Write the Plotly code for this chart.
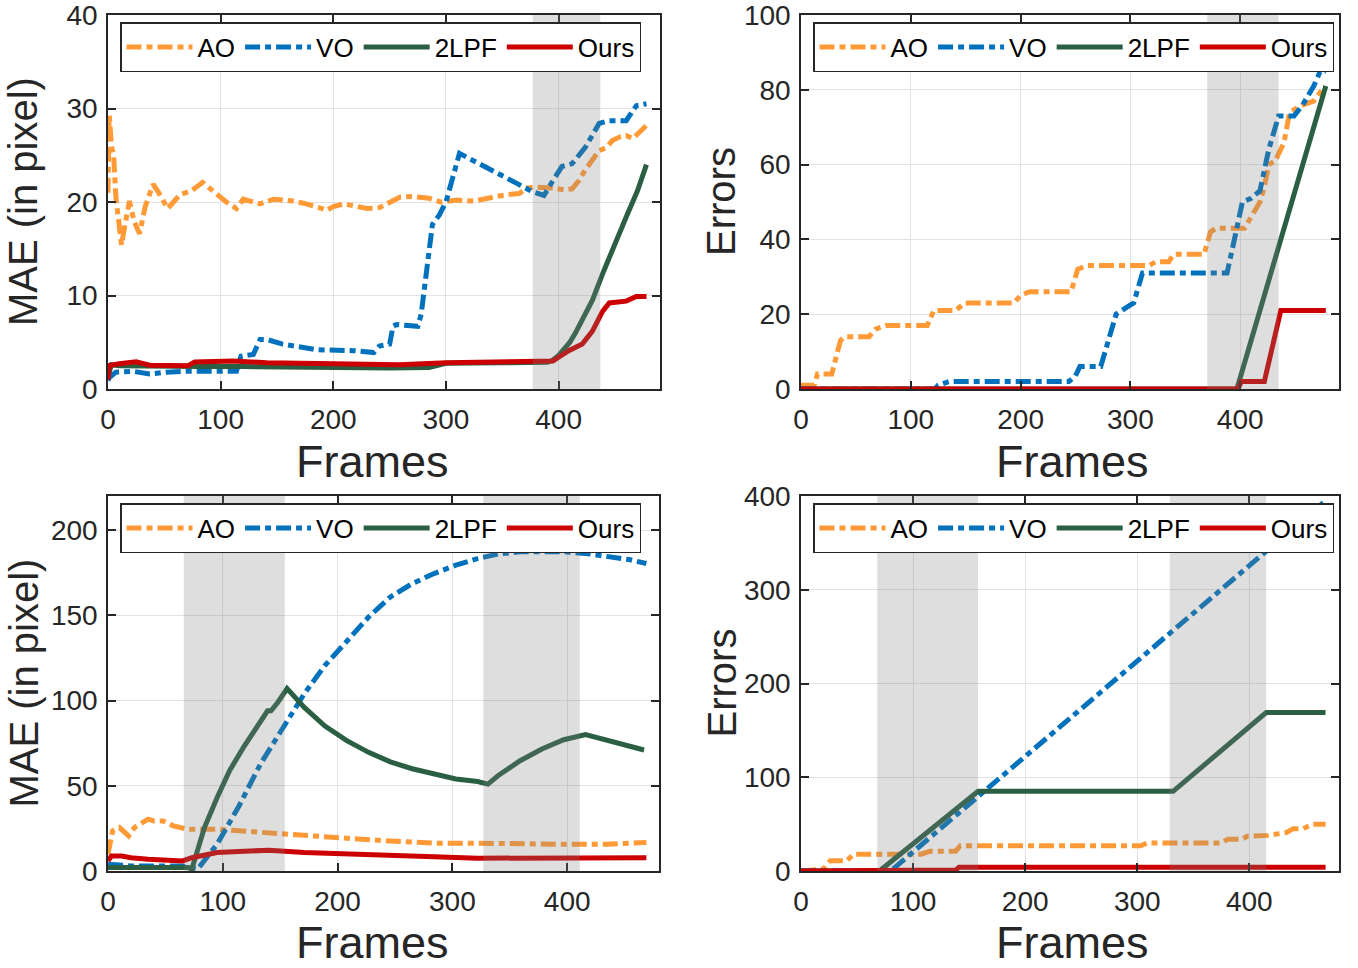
import plotly.graph_objects as go

W, H = 1358, 968

# ---- panel A: MAE, sequence 1 ----
a_ao_x = [0, 1, 3, 5, 7, 12, 15, 19, 23, 28, 33, 40, 44, 53, 64, 74, 84, 96, 105, 114, 120,
          135, 147, 164, 176, 190, 194, 200, 209, 218, 230, 241, 253, 259, 270, 285, 295, 300, 310, 325, 335,
          345, 355, 365, 372, 380, 395, 405, 412, 418, 424, 430, 436, 442, 448, 455, 460, 466, 472, 478]
a_ao_y = [21.0, 29.5, 26.0, 25.0, 20.5, 15.4, 17.5, 20.1, 18.0, 16.6, 19.5, 21.9, 21.2, 19.3, 20.8, 21.2, 22.1, 20.8, 20.0, 19.3, 20.3,
          19.8, 20.3, 20.1, 19.8, 19.3, 19.1, 19.5, 19.8, 19.6, 19.3, 19.4, 20.1, 20.5, 20.6, 20.4, 20.0, 20.1, 20.2, 20.1, 20.4,
          20.6, 20.8, 20.9, 21.5, 21.6, 21.5, 21.3, 21.4, 22.3, 23.5, 24.6, 25.5, 25.8, 26.6, 27.0, 27.1, 26.8, 27.5, 28.2]
a_vo_x = [0, 1, 7, 22, 37, 52, 70, 81, 114, 118, 123, 129, 135, 141, 155, 185, 218, 236, 241, 250,
          253, 256, 275, 278, 288, 294, 300, 312, 377, 387, 395, 403, 412, 424, 436, 445, 460, 469, 478]
a_vo_y = [0.9, 1.2, 1.8, 1.9, 1.6, 1.8, 1.9, 1.9, 1.9, 3.5, 3.6, 3.7, 5.3, 5.3, 4.8, 4.2, 4.1, 3.9, 4.6, 4.8,
          6.7, 6.9, 6.7, 8.0, 17.6, 18.6, 20.0, 25.2, 21.1, 20.7, 22.3, 23.8, 24.1, 25.9, 28.4, 28.7, 28.7, 30.3, 30.5]
a_lpf_x = [0, 3, 10, 40, 80, 120, 160, 200, 250, 285, 300, 350, 390, 395, 400, 405, 410, 415, 420, 425,
           430, 440, 450, 460, 470, 478]
a_lpf_y = [1.3, 2.6, 2.5, 2.4, 2.4, 2.4, 2.35, 2.25, 2.25, 2.3, 2.75, 2.8, 2.85, 3.1, 3.6, 4.3, 5.0, 6.0, 7.1, 8.3,
           9.5, 12.6, 15.6, 18.4, 21.2, 24.0]
a_our_x = [0, 1, 10, 25, 37, 52, 71, 77, 111, 141, 200, 259, 300, 389, 395, 400, 409, 421, 430, 439,
           445, 460, 469, 478]
a_our_y = [1.0, 2.5, 2.7, 2.9, 2.55, 2.5, 2.5, 2.9, 3.0, 2.8, 2.65, 2.6, 2.8, 2.9, 3.0, 3.4, 4.1, 4.8, 6.2, 8.3,
           9.2, 9.4, 9.9, 9.9]
a_shade = [(377, 437)]

# ---- panel B: error count, sequence 1 ----
b_ao_x = [0, 12, 15, 28, 36, 40, 62, 68, 78, 115, 121, 141, 149, 194, 200, 208, 246, 252, 260, 317,
          323, 335, 339, 367, 373, 378, 404, 410, 418, 422, 426, 432, 440, 445, 457, 467, 477]
b_ao_y = [1, 1, 4, 4, 13, 14, 14, 16, 17, 17, 21, 21, 23, 23, 25, 26, 26, 32, 33, 33,
          34, 34, 36, 36, 42, 43, 43, 46, 50, 54, 60, 61, 66, 74, 76, 77, 81]
b_vo_x = [0, 122, 125, 135, 244, 250, 254, 273, 287, 293, 303, 311, 388, 394, 402, 410, 418, 426, 435, 449,
          457, 467, 473, 478]
b_vo_y = [0, 0, 1, 2, 2, 3.5, 6, 6, 20, 21, 23, 31, 31, 39, 50, 51, 53, 64, 73, 73,
          76, 81, 85, 85]
b_lpf_x = [0, 397, 478]
b_lpf_y = [0, 0, 81]
b_our_x = [0, 398, 401, 422, 437, 478]
b_our_y = [0, 0, 2, 2, 21, 21]
b_shade = [(370, 435)]

# ---- panel C: MAE, sequence 2 ----
c_ao_x = [0, 4, 10, 18, 23, 35, 40, 48, 57, 69, 95, 114, 133, 152, 171, 208, 246, 284, 322, 359,
          397, 435, 469]
c_ao_y = [9.8, 23.5, 25.5, 20.6, 25.5, 30.4, 29.4, 29.4, 26.5, 24.5, 24.5, 23.5, 22.5, 21.6, 20.6, 19.2, 17.6, 16.3, 16.3, 15.7,
          15.7, 15.7, 16.7]
c_vo_x = [0, 20, 65, 78, 95, 114, 133, 152, 171, 189, 208, 227, 246, 265, 284, 303, 322, 340, 359, 378,
          397, 416, 435, 454, 469]
c_vo_y = [3.9, 3.0, 2.9, 1.0, 15.7, 38, 63, 84, 104, 120.6, 135, 149, 160.8, 168.6, 174.5, 179.4, 183.3, 186, 187.3, 187.6,
          187.3, 186.3, 184.7, 182.7, 180.4]
c_lpf_x = [0, 70, 73, 84, 95, 106, 118, 129, 139, 142, 148, 156, 171, 189, 208, 227, 246, 265, 284, 303,
           322, 331, 340, 359, 378, 397, 416, 435, 454, 467]
c_lpf_y = [2, 2, 1, 25.5, 43, 59, 72.5, 84, 94, 94, 99, 107, 96, 85, 76.5, 69.6, 64, 60, 57, 54,
           52.5, 51, 56, 64.7, 71.6, 77, 80, 76.5, 73.5, 71]
c_our_x = [0, 3, 12, 20, 35, 50, 65, 73, 95, 114, 140, 171, 208, 284, 322, 397, 469]
c_our_y = [5.9, 8.8, 8.8, 7.8, 6.9, 6.3, 5.9, 7.8, 10.8, 11.4, 12.2, 10.8, 9.8, 8.4, 7.5, 7.8, 7.8]
c_shade = [(66, 154), (327, 411)]

# ---- panel D: error count, sequence 2 ----
d_ao_x = [0, 20, 26, 41, 47, 107, 115, 138, 142, 303, 309, 375, 381, 394, 398, 417, 433, 439, 448, 456, 468]
d_ao_y = [0, 2, 11, 11, 18, 18, 21, 21, 27, 27, 30, 30, 34, 34, 37, 38, 41, 45, 45, 50, 50]
d_vo_x = [0, 80, 466]
d_vo_y = [0, 0, 393]
d_lpf_x = [0, 70, 158, 332, 415, 468]
d_lpf_y = [0, 0, 85, 85, 169, 169]
d_our_x = [0, 90, 95, 138, 141, 468]
d_our_y = [0, 0, 1, 1, 4, 4]
d_shade = [(68, 158), (329, 415)]

names = ["AO", "VO", "2LPF", "Ours"]
colors = ["#FF9A36", "#0072BD", "#2B5F44", "#CC0000"]
dashes = ["15px,5px,6px,5px", "15px,5px,6px,5px", "solid", "solid"]

FONT = "Arial, Liberation Sans, sans-serif"
INK = "#262626"

# panel box in page pixels: (left, right, top, bottom); y-title centre x; x-title centre x / cap-centre y
panels = [
    dict(key="", box=(108, 660, 15, 389), xr=[0, 490], yr=[0, 40], dy=10, ytitle="MAE (in pixel)", ytx=23,
         xt=(372, 461),
         series=[(a_ao_x, a_ao_y), (a_vo_x, a_vo_y), (a_lpf_x, a_lpf_y), (a_our_x, a_our_y)], shade=a_shade),
    dict(key="2", box=(801, 1339, 15, 389), xr=[0, 490], yr=[0, 100], dy=20, ytitle="Errors", ytx=721,
         xt=(1072, 461),
         series=[(b_ao_x, b_ao_y), (b_vo_x, b_vo_y), (b_lpf_x, b_lpf_y), (b_our_x, b_our_y)], shade=b_shade),
    dict(key="3", box=(108, 659, 496, 871), xr=[0, 480], yr=[0, 220], dy=50, ytitle="MAE (in pixel)", ytx=23,
         xt=(372, 942),
         series=[(c_ao_x, c_ao_y), (c_vo_x, c_vo_y), (c_lpf_x, c_lpf_y), (c_our_x, c_our_y)], shade=c_shade),
    dict(key="4", box=(801, 1339, 496, 871), xr=[0, 480], yr=[0, 400], dy=100, ytitle="Errors", ytx=721,
         xt=(1072, 942),
         series=[(d_ao_x, d_ao_y), (d_vo_x, d_vo_y), (d_lpf_x, d_lpf_y), (d_our_x, d_our_y)], shade=d_shade),
]


def px_x(v):
    return v / W


def px_y(v):
    return 1 - v / H


fig = go.Figure()
layout = dict(width=W, height=H, margin=dict(l=0, r=0, t=0, b=0),
              paper_bgcolor="white", plot_bgcolor="white",
              font=dict(family=FONT, color=INK), shapes=[], annotations=[])

for p in panels:
    k = p["key"]
    left, right, top, bottom = p["box"]
    xa, ya = "xaxis" + k, "yaxis" + k
    xref, yref = "x" + k, "y" + k
    leg = "legend" + k
    axis_common = dict(showline=True, linecolor=INK, linewidth=1.5, mirror="ticks",
                       ticks="inside", ticklen=8, tickwidth=1.5, tickcolor=INK,
                       showgrid=True, gridcolor="#e2e2e2", gridwidth=1, zeroline=False,
                       ticklabeloverflow="allow",
                       tickfont=dict(size=28, color=INK, family=FONT), automargin=False)
    layout[xa] = dict(axis_common, domain=[px_x(left), px_x(right)], range=p["xr"], anchor=yref,
                      tick0=0, dtick=100, ticklabelstandoff=5)
    layout[ya] = dict(axis_common, domain=[px_y(bottom), px_y(top)], range=p["yr"], anchor=xref,
                      tick0=0, dtick=p["dy"], ticklabelstandoff=3)
    # axis titles placed as annotations so they sit where the original puts them
    layout["annotations"].append(dict(text=p["ytitle"], textangle=-90, showarrow=False,
                                      xref="paper", yref="paper", x=px_x(p["ytx"]),
                                      y=px_y((top + bottom) / 2), xanchor="center", yanchor="middle",
                                      font=dict(size=40, color=INK, family=FONT)))
    layout["annotations"].append(dict(text="Frames", showarrow=False,
                                      xref="paper", yref="paper", x=px_x(p["xt"][0]),
                                      y=px_y(p["xt"][1]), xanchor="center", yanchor="middle",
                                      font=dict(size=45, color=INK, family=FONT)))
    layout[leg] = dict(orientation="h", x=px_x(left + 12), y=px_y(top + 7),
                       xanchor="left", yanchor="top", bgcolor="white",
                       bordercolor=INK, borderwidth=1.5, itemwidth=66,
                       font=dict(size=26, color="black", family=FONT),
                       tracegroupgap=0, itemclick=False)
    for (sx, sy), name, col, dash in zip(p["series"], names, colors, dashes):
        fig.add_trace(go.Scatter(x=sx, y=sy, mode="lines", name=name, xaxis=xref, yaxis=yref,
                                 legend=leg, line=dict(color=col, width=5, dash=dash)))
    for x0, x1 in p["shade"]:
        layout["shapes"].append(dict(type="rect", xref=xref, yref=yref + " domain", x0=x0, x1=x1,
                                     y0=0, y1=1, fillcolor="rgba(128,128,128,0.26)",
                                     line=dict(width=0), layer="above"))

fig.update_layout(**layout)
# drop the default 8px page margin so the figure fills the window exactly
fig.write_html("out.html", config={"displayModeBar": False},
               post_script="document.body.style.margin = '0';")
